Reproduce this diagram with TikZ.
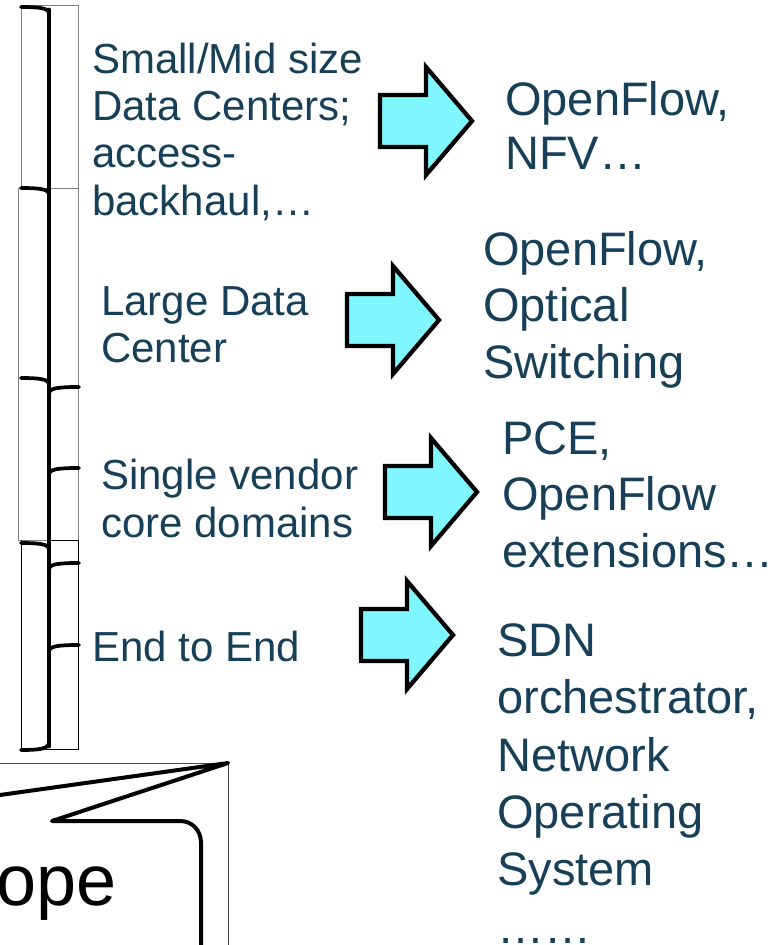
\documentclass[tikz,border=0pt]{standalone}
\usepackage{fontspec}
\setmainfont{Liberation Sans}
\usepackage{xcolor}
\usepackage{tikz}

\definecolor{slideText}{RGB}{23,64,88}
\definecolor{arrowFill}{RGB}{128,246,255}

\begin{document}
\begin{tikzpicture}[x=0.75pt,y=0.75pt,yscale=-1,xscale=1,
  thinframe/.style={line width=0.75pt, color=gray},
  bracketline/.style={line width=3.6pt, line cap=round},
  bracketick/.style={line width=2.8pt, line cap=round},
  arrowshape/.style={draw=black, fill=arrowFill, line width=3.2pt, line join=miter},
  lefttext/.style={anchor=north west, inner sep=0pt, align=left, text=slideText, font=\fontsize{31.5}{35.6}\selectfont},
  righttext/.style={anchor=north west, inner sep=0pt, align=left, text=slideText, font=\fontsize{35.25}{42.4}\selectfont}]
\useasboundingbox (0,0) rectangle (778,945);

%Shape: Frames [id:frames]
\draw [thinframe] (21,6) rectangle (78,188) ;
\draw [thinframe] (18,188) rectangle (78,540) ;
\draw [thinframe, color=black] (49,540) -- (78,540) -- (78,749) -- (21,749) -- (21,540) ;

%Straight Lines [id:bracket]
\draw [bracketline] (49,10) -- (49,746) ;
\foreach \ty in {7,188,378,543}
  \draw [bracketick] (21,\ty) .. controls (38,\ty) and (47,\ty+1) .. (49,\ty+5) ;
\draw [bracketick] (21,750) .. controls (38,750) and (47,749) .. (49,744) ;
\foreach \ty in {387,468,563,645}
  \draw [bracketick] (49,\ty+5) .. controls (51,\ty+1) and (60,\ty) .. (79,\ty) ;

%Shape: Block Arrows [id:arrows]
\foreach \ax/\ay in {378/121,345/320,383/492,359/635}
  \draw [arrowshape, shift={(\ax,\ay)}] (2,-26) -- (48,-26) -- (48,-54) -- (94,0) -- (48,54) -- (48,26) -- (2,26) -- cycle ;

%Shape: Callout [id:callout]
\draw [thinframe, color=black!70] (0,763) -- (228,763) -- (228,950) ;
\draw [line width=3pt, line join=round, line cap=round] (0,795) -- (228,763) -- (52,821) -- (180,821) .. controls (192,821) and (201,830) .. (201,843) -- (201,950) ;

% Text Node
\draw (92,42.3) node [lefttext] (smallDC) {Small/Mid size\\Data Centers;\\access-\\backhaul,…};
% Text Node
\draw (101,286) node [lefttext] (largeDC) {Large Data\\Center};
% Text Node
\draw (101,459) node [lefttext] (coreDom) {Single vendor\\core domains};
% Text Node
\draw (92,631) node [lefttext] (endToEnd) {End to End};
% Text Node
\draw (505,81) node [righttext, font=\fontsize{35.25}{40.5}\selectfont] (ofNfv) {OpenFlow,\\NFV…};
% Text Node
\draw (483,231) node [righttext] (ofOptical) {OpenFlow,\\Optical\\Switching};
% Text Node
\draw (502,421) node [righttext] (pceExt) {PCE,\\OpenFlow\\extensions…};
% Text Node
\draw (497,623) node [righttext, font=\fontsize{35.25}{43.1}\selectfont] (sdnOrch) {SDN\\orchestrator,\\Network\\Operating\\System\\……};
% Text Node
\draw (117,905) node [anchor=base east, inner sep=0pt, font=\fontsize{54}{62}\selectfont] (scopeLbl) {ope};

\end{tikzpicture}
\end{document}
